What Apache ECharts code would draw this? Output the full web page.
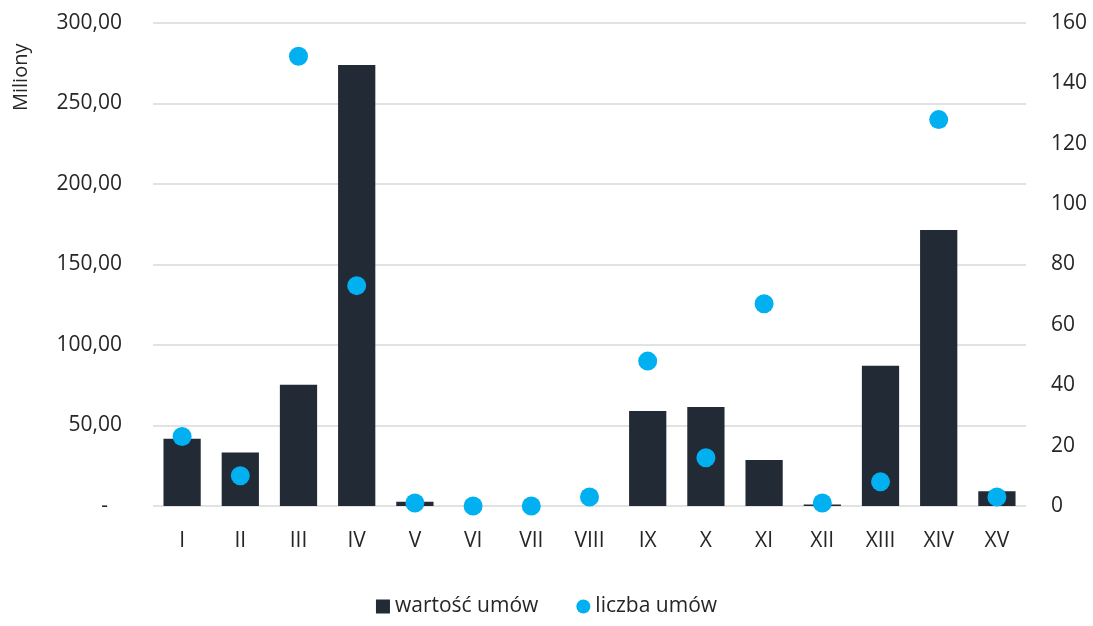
<!DOCTYPE html>
<html>
<head>
<meta charset="utf-8">
<script src="https://cdn.jsdelivr.net/npm/echarts@6/dist/echarts.min.js"></script>
<style>html,body{margin:0;padding:0;background:#fff}#c{width:1093px;height:626px}</style>
</head>
<body>
<div id="c"></div>
<script>
const categories = ['I','II','III','IV','V','VI','VII','VIII','IX','X','XI','XII','XIII','XIV','XV'];
const wartoscUmow = [41.8, 33.3, 75.3, 273.9, 2.7, 0, 0, 0, 59.0, 61.5, 28.6, 1.0, 87.1, 171.4, 9.1];
const liczbaUmow = [23, 10, 149, 73, 1, 0, 0, 3, 48, 16, 67, 1, 8, 128, 3];
const seriesNames = ['wartość umów', 'liczba umów'];
const axisTitle = 'Miliony';

const FONT = '"Open Sans", sans-serif';
const TXT = '#262626';
const chart = echarts.init(document.getElementById('c'));
chart.setOption({
  animation: false,
  textStyle: { fontFamily: FONT },
  grid: { left: 153, right: 67, top: 23, bottom: 120, containLabel: false },
  legend: {
    bottom: 4, left: 'center', itemGap: 38, itemWidth: 14, itemHeight: 14,
    textStyle: { fontSize: 21, color: TXT, fontFamily: FONT },
    data: [{ name: seriesNames[0], icon: 'rect' }, { name: seriesNames[1], icon: 'circle' }]
  },
  graphic: [{
    type: 'text', x: 11, y: 111, rotation: Math.PI / 2,
    style: { text: axisTitle, font: '20px ' + FONT, fill: TXT }
  }],
  xAxis: {
    type: 'category', data: categories,
    axisLine: { show: false }, axisTick: { show: false },
    axisLabel: { fontSize: 21, color: TXT, margin: 25 }
  },
  yAxis: [{
    type: 'value', min: 0, max: 300, interval: 50,
    axisLine: { show: false }, axisTick: { show: false },
    splitLine: { lineStyle: { color: '#d9d9d9', width: 1.5 } },
    axisLabel: {
      fontSize: 21, color: TXT, margin: 31,
      formatter: v => v === 0 ? '{d|-}' : v.toFixed(2).replace('.', ','),
      rich: { d: { fontSize: 21, color: TXT, padding: [0, 14, 0, 0] } }
    }
  }, {
    type: 'value', min: 0, max: 160, interval: 20,
    axisLine: { show: false }, axisTick: { show: false }, splitLine: { show: false },
    axisLabel: { fontSize: 21, color: TXT, margin: 25 }
  }],
  series: [{
    name: seriesNames[0], type: 'bar', data: wartoscUmow, yAxisIndex: 0,
    barCategoryGap: '36%', itemStyle: { color: '#222a35' }
  }, {
    name: seriesNames[1], type: 'scatter', data: liczbaUmow, yAxisIndex: 1,
    symbol: 'circle', symbolSize: 19, itemStyle: { color: '#00b0f0', opacity: 1 }
  }]
});
</script>
</body>
</html>
